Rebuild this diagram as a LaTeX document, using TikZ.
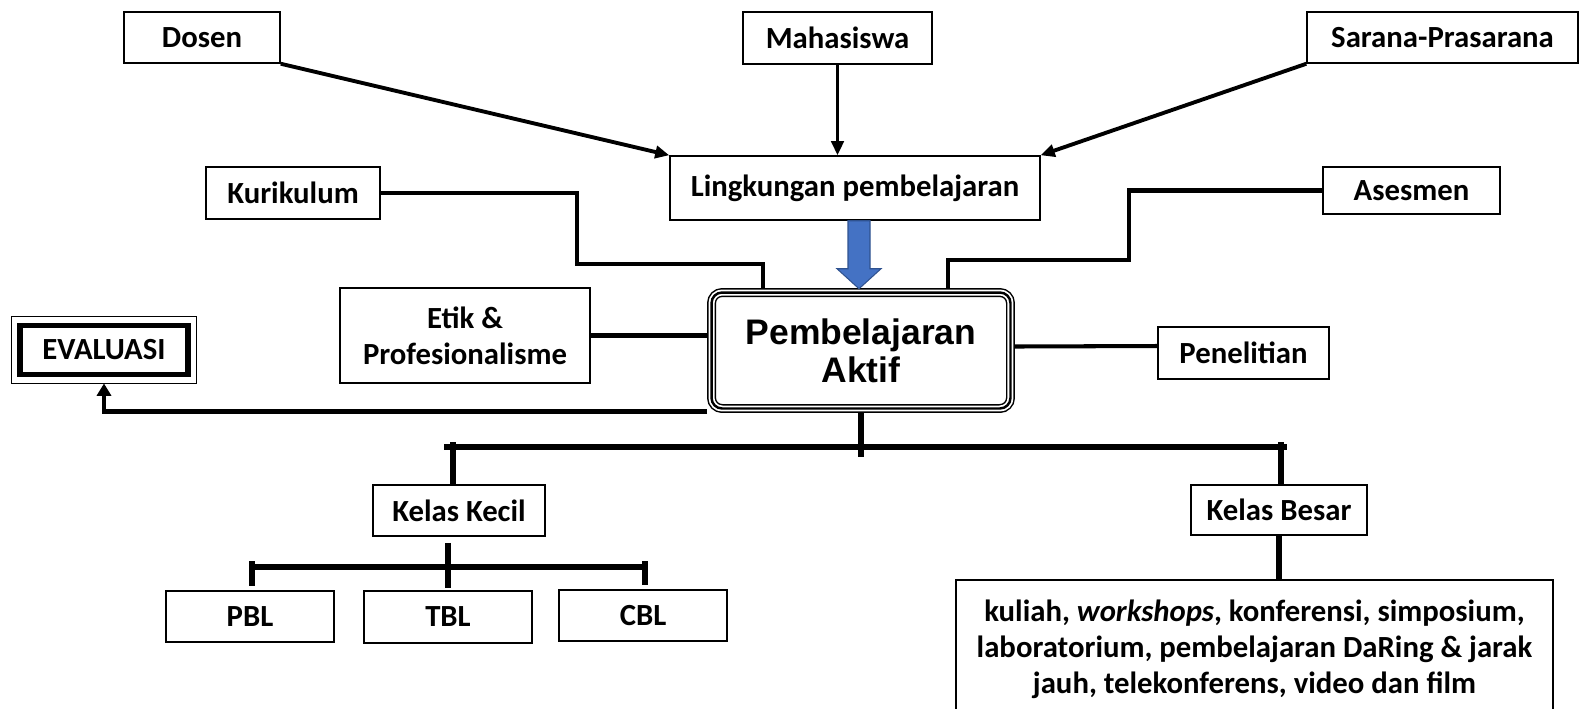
\documentclass[tikz,border=0pt]{standalone}
\usepackage{fontspec}
\setmainfont{Carlito}
\newfontfamily\headfont{Liberation Sans}
\usetikzlibrary{calc,arrows.meta,positioning}
\definecolor{lpBlue}{RGB}{68,114,196}
\definecolor{lpBlueDark}{RGB}{47,82,143}

\begin{document}
\begin{tikzpicture}[x=0.02cm,y=-0.02cm,
  box/.style={draw, line width=0.85pt, inner sep=0pt, align=center,
    font=\fontsize{17.5}{20.5}\selectfont\bfseries},
  aktifbox/.style={draw, line width=5.1pt, rounded corners=6pt, inner sep=0pt, align=center,
    postaction={draw=white, line width=3.4pt},
    postaction={draw=black, line width=1.4pt},
    font=\headfont\bfseries\fontsize{20.2}{21.5}\selectfont},
  link/.style={line width=2.3pt},
  bar/.style={line width=3.4pt},
  arr/.style={line width=2.2pt, -{Triangle[length=8pt,width=7pt]}}]
\useasboundingbox (0,0) rectangle (1581,708);

\node[box, minimum width=3.12cm, minimum height=1.02cm] (dosen) at (202,37.5) {Dosen};
\node[box, minimum width=3.78cm, minimum height=1.04cm] (mhs) at (837.5,38) {Mahasiswa};
\node[box, minimum width=5.42cm, minimum height=1.02cm] (sarana) at (1442.5,37.5) {Sarana-Prasarana};
\node[box, minimum width=7.4cm, minimum height=1.28cm] (lingk) at (855,188) {Lingkungan pembelajaran};
\node[box, minimum width=3.48cm, minimum height=1.04cm] (kurik) at (293,193) {Kurikulum};
\node[box, minimum width=3.54cm, minimum height=0.94cm] (asesmen) at (1411.5,190.5) {Asesmen};
\node[box, minimum width=5cm, minimum height=1.9cm] (etik) at (465,335.5) {Etik \&\\Profesionalisme};
\node[aktifbox, minimum width=5.98cm, minimum height=2.32cm] (aktif) at (861,350.5) {Pembelajaran\\Aktif};
\node[box, minimum width=3.42cm, minimum height=1.04cm] (penel) at (1243.5,353) {Penelitian};
\node[box, line width=3.1pt, minimum width=3.36cm, minimum height=0.99cm] (eval) at (104,350) {EVALUASI};
\draw[line width=0.6pt] ($(eval.north west)+(-6,-6)$) rectangle ($(eval.south east)+(6,6)$);

\node[box, minimum width=3.44cm, minimum height=1.02cm] (kk) at (459,510.5) {Kelas Kecil};
\node[box, minimum width=3.52cm, minimum height=1cm] (kb) at (1279,510) {Kelas Besar};
\node[box, minimum width=3.36cm, minimum height=1.02cm] (pbl) at (250,616.5) {PBL};
\node[box, minimum width=3.36cm, minimum height=1.04cm] (tbl) at (448,617) {TBL};
\node[box, minimum width=3.36cm, minimum height=1.02cm] (cbl) at (643,615.5) {CBL};
\node[box, minimum width=11.94cm, minimum height=2.76cm] (daring) at (1254.5,649)
  {kuliah, \textit{workshops}, konferensi, simposium,\\laboratorium, pembelajaran DaRing \& jarak\\jauh, telekonferens, video dan film};

\draw[arr] (dosen.south east) -- (lingk.north west);
\draw[arr] (mhs.south) -- (mhs.south |- lingk.north);
\draw[arr] (sarana.south west) -- (lingk.north east);
\filldraw[draw=lpBlueDark, fill=lpBlue, line width=0.6pt] ($(lingk.south)+(-7,0)$) -- ++(0,48) -- ++(-11,0)
  -- ++(22,20) -- ++(22,-20) -- ++(-11,0) -- ++(0,-48) -- cycle;

\draw[link] (kurik.east) -| (577,264) -| ($(aktif.north)+(-98,0)$);
\draw[link] (asesmen.west) -| (1129,260) -| ($(aktif.north)+(87,0)$);
\draw[link] (etik.east) -- (etik.east -| aktif.west);
\draw[link] ($(aktif.east)+(0,-4)$) -- ($(penel.west)+(0,-7)$);
\draw[link, -{Triangle[length=7pt,width=8pt]}] ($(aktif.south west)+(0,-1.5)$) -| ($(eval.south)+(0,6)$);

\draw[bar] (aktif.south) -- ++(0,44);
\draw[bar] (444,447) -- (1287,447);
\draw[bar] ($(kk.north)+(-6,-42)$) -- ++(0,42);
\draw[bar] ($(kb.north)+(2,-42)$) -- ++(0,42);
\draw[bar] ($(kk.south)+(-11,6)$) -- ++(0,45);
\draw[bar] (252,567) -- (645,567);
\draw[bar] ($(pbl.north)+(2,-29)$) -- ++(0,25);
\draw[bar] ($(cbl.north)+(2,-28)$) -- ++(0,24);
\draw[bar] (kb.south) -- (kb.south |- daring.north);
\end{tikzpicture}
\end{document}
